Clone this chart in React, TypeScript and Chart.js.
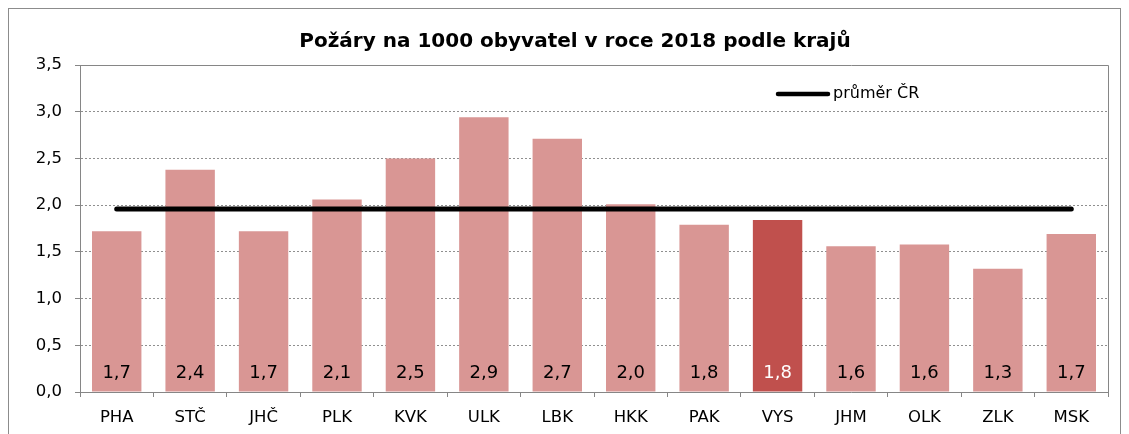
import React, { useEffect, useRef } from "react";
import { Chart, registerables } from "chart.js";

Chart.register(...registerables);

const categories = ["PHA", "STČ", "JHČ", "PLK", "KVK", "ULK", "LBK", "HKK", "PAK", "VYS", "JHM", "OLK", "ZLK", "MSK"];
const fireRates = [1.72, 2.38, 1.72, 2.06, 2.5, 2.94, 2.71, 2.01, 1.79, 1.84, 1.56, 1.58, 1.32, 1.69];
const nationalAverage = 1.96;
const highlightedRegion = "VYS";
const titleText = "Požáry na 1000 obyvatel v roce 2018 podle krajů";
const legendLabel = "průměr ČR";
const barLabel = "Požáry na 1000 obyvatel";

const FONT = '"DejaVu Sans", Verdana, sans-serif';
const BAR_COLOR = "#D99694";
const HIGHLIGHT_COLOR = "#C0504D";
const AXIS_COLOR = "#868686";
const GRID_COLOR = "#8f8f8f";

const fmt = (v: number) => v.toFixed(1).replace(".", ",");

const titleShiftPlugin = {
  id: "titleShift",
  afterLayout(chart: any) {
    if (chart.titleBlock) {
      chart.titleBlock.left = 33;
    }
  },
};

const plotFramePlugin = {
  id: "plotFrame",
  beforeDatasetsDraw(chart: any) {
    const { ctx, chartArea } = chart;
    ctx.save();
    ctx.strokeStyle = AXIS_COLOR;
    ctx.lineWidth = 1;
    ctx.beginPath();
    ctx.moveTo(chartArea.left, Math.round(chartArea.top) + 0.5);
    ctx.lineTo(Math.round(chartArea.right) + 0.5, Math.round(chartArea.top) + 0.5);
    ctx.lineTo(Math.round(chartArea.right) + 0.5, chartArea.bottom);
    ctx.stroke();
    ctx.restore();
  },
};

const barLabelsPlugin = {
  id: "barLabels",
  afterDatasetsDraw(chart: any) {
    const { ctx } = chart;
    const meta = chart.getDatasetMeta(0);
    const zero = chart.scales.y.getPixelForValue(0);
    ctx.save();
    ctx.font = `18px ${FONT}`;
    ctx.textAlign = "center";
    ctx.textBaseline = "middle";
    meta.data.forEach((bar: any, i: number) => {
      ctx.fillStyle = categories[i] === highlightedRegion ? "#ffffff" : "#000000";
      ctx.fillText(fmt(fireRates[i]), bar.x, zero - 19);
    });
    ctx.restore();
  },
};

const legendPlugin = {
  id: "insideLegend",
  afterDraw(chart: any) {
    const { ctx, chartArea } = chart;
    const y = chartArea.top + 29;
    const x0 = chartArea.right - 330;
    ctx.save();
    ctx.strokeStyle = "#000";
    ctx.lineWidth = 4.5;
    ctx.lineCap = "round";
    ctx.beginPath();
    ctx.moveTo(x0, y);
    ctx.lineTo(x0 + 50, y);
    ctx.stroke();
    ctx.fillStyle = "#000";
    ctx.font = `16px ${FONT}`;
    ctx.textAlign = "left";
    ctx.textBaseline = "middle";
    ctx.fillText(legendLabel, x0 + 55, y);
    ctx.restore();
  },
};

export default function App() {
  const ref = useRef<HTMLCanvasElement | null>(null);

  useEffect(() => {
    if (!ref.current) return;
    const chart = new Chart(ref.current, {
      type: "bar",
      data: {
        labels: categories,
        datasets: [
          {
            type: "bar",
            label: barLabel,
            data: fireRates,
            backgroundColor: categories.map((c) => (c === highlightedRegion ? HIGHLIGHT_COLOR : BAR_COLOR)),
            categoryPercentage: 1,
            barPercentage: 0.673,
            order: 2,
          },
          {
            type: "line",
            label: legendLabel,
            data: categories.map(() => nationalAverage),
            borderColor: "#000",
            backgroundColor: "#000",
            borderWidth: 5,
            borderCapStyle: "round",
            pointRadius: 0,
            order: 1,
          } as any,
        ],
      },
      options: {
        responsive: false,
        animation: false,
        devicePixelRatio: 1,
        layout: { padding: { top: 0, left: 0, right: 12, bottom: 22 } },
        plugins: {
          legend: { display: false },
          tooltip: { enabled: false },
          title: {
            display: true,
            text: titleText,
            color: "#000",
            font: { family: FONT, size: 20, weight: "bold" },
            padding: { top: 21, bottom: 11 },
          },
        },
        scales: {
          x: {
            grid: {
              display: true,
              drawOnChartArea: false,
              drawTicks: true,
              tickLength: 5,
              color: AXIS_COLOR,
              offset: true,
            },
            border: { display: true, color: AXIS_COLOR, width: 1 },
            ticks: { color: "#000", font: { family: FONT, size: 16.5 }, padding: 11, maxRotation: 0, autoSkip: false },
            afterFit: (s: any) => {
              s.height = 40;
            },
          },
          y: {
            min: 0,
            max: 3.5,
            grid: {
              color: GRID_COLOR,
              tickLength: 5,
              tickColor: AXIS_COLOR,
              tickBorderDash: [],
            },
            border: { display: true, color: AXIS_COLOR, width: 1, dash: [2, 2] },
            ticks: {
              stepSize: 0.5,
              color: "#000",
              padding: 13,
              font: { family: FONT, size: 16.5 },
              callback: (v: any) => fmt(Number(v)),
            },
            afterFit: (s: any) => {
              s.width = 71;
            },
          },
        },
      },
      plugins: [titleShiftPlugin, plotFramePlugin, barLabelsPlugin, legendPlugin],
    });
    return () => chart.destroy();
  }, []);

  return (
    <div style={{ width: 1111, height: 445, border: "1px solid #8c8c8c" }}>
      <canvas ref={ref} width={1111} height={445} style={{ display: "block" }} />
    </div>
  );
}
